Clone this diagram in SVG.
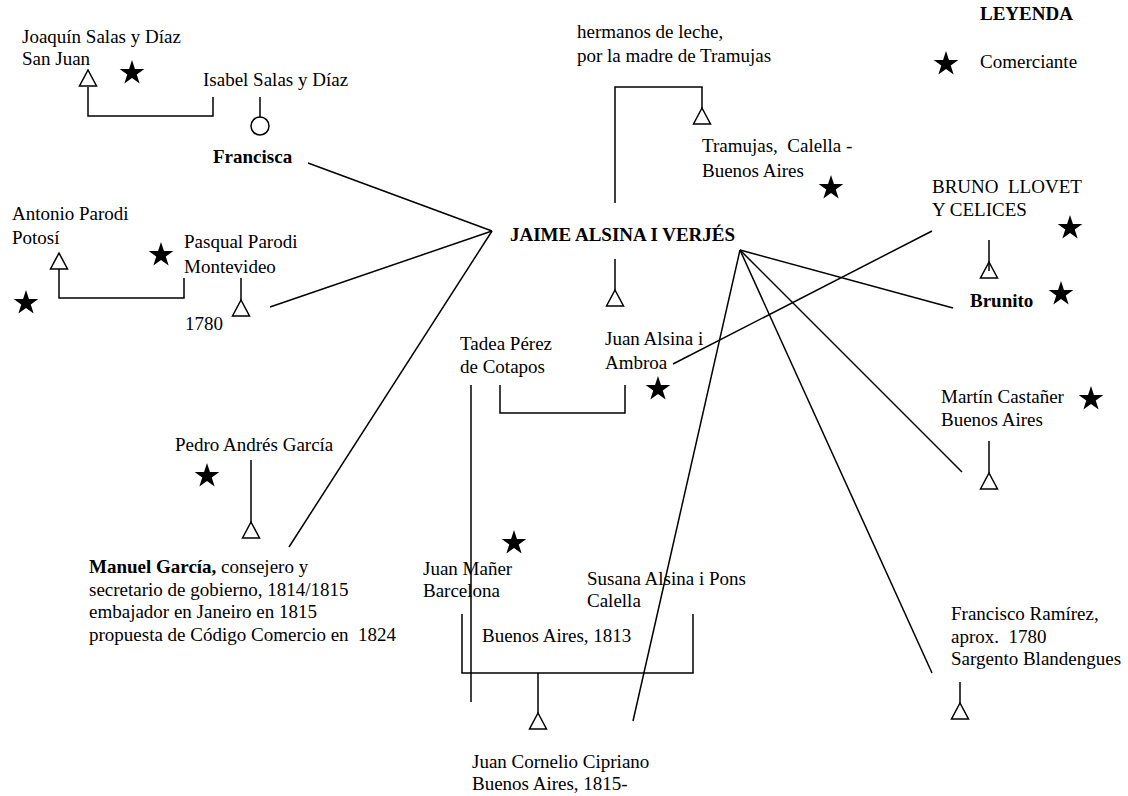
<svg xmlns="http://www.w3.org/2000/svg" xmlns:xlink="http://www.w3.org/1999/xlink" width="1128" height="796" viewBox="0 0 1128 796">
<style>
text{font-family:"Liberation Serif","Times New Roman",serif;font-size:19px;fill:#000;white-space:pre}
.b{font-weight:bold}
.ln{stroke:#000;stroke-width:1.5;fill:none}
.sym{stroke:#000;stroke-width:1.5;fill:#fff}
</style>
<defs>
<path id="star" d="M0,-13 L2.94,-4.05 L12.36,-4.02 L4.76,1.55 L7.64,10.52 L0,5 L-7.64,10.52 L-4.76,1.55 L-12.36,-4.02 L-2.94,-4.05 Z" fill="#000"/>
<path id="tri" d="M0,0 L8.5,16 L-8.5,16 Z" class="sym"/>
</defs>
<rect width="1128" height="796" fill="#fff"/>

<g id="connectors" class="ln">
<path d="M308,163 L492,231"/>
<path d="M270,307 L492,231"/>
<path d="M289,547 L492,231"/>
<path d="M740,250 L953,308"/>
<path d="M740,250 L962,472"/>
<path d="M740,250 L932,673"/>
<path d="M740,250 L633,721"/>
<path d="M932,231 L673,364"/>
<path d="M88,87 V116 H213 V97"/>
<path d="M59,269 V298 H184 V278"/>
<path d="M615,203 V87 H702 V108"/>
<path d="M500,385 V413 H625 V385"/>
<path d="M471,385 V702"/>
<path d="M462,614 V673 H693 V614"/>
<path d="M538,673 V713"/>
</g>

<g id="joaquin">
<text x="22" y="43">Joaquín Salas y Díaz</text>
<text x="22" y="65">San Juan</text>
<use xlink:href="#tri" x="88" y="70"/>
<use xlink:href="#star" x="132" y="73"/>
</g>

<g id="isabel">
<text x="203" y="86">Isabel Salas y Díaz</text>
<path class="ln" d="M260,97 V117"/>
<circle class="sym" cx="260" cy="126" r="9"/>
</g>

<g id="francisca">
<text class="b" x="213" y="163">Francisca</text>
</g>

<g id="antonio">
<text x="12" y="220">Antonio Parodi</text>
<text x="12" y="244">Potosí</text>
<use xlink:href="#tri" x="59" y="253"/>
<use xlink:href="#star" x="26" y="303"/>
</g>

<g id="pasqual">
<text x="184" y="248">Pasqual Parodi</text>
<text x="184" y="273">Montevideo</text>
<use xlink:href="#star" x="161" y="255"/>
<path class="ln" d="M241,278 V300"/>
<use xlink:href="#tri" x="241" y="300"/>
<text x="185" y="330">1780</text>
</g>

<g id="jaime">
<text class="b" x="510" y="241">JAIME ALSINA I VERJÉS</text>
<path class="ln" d="M615,259 V290"/>
<use xlink:href="#tri" x="615" y="290"/>
</g>

<g id="hermanos">
<text x="577" y="38">hermanos de leche,</text>
<text x="577" y="62">por la madre de Tramujas</text>
</g>

<g id="tramujas">
<use xlink:href="#tri" x="702" y="108"/>
<text x="702" y="152">Tramujas,  Calella -</text>
<text x="702" y="177">Buenos Aires</text>
<use xlink:href="#star" x="831" y="188"/>
</g>

<g id="leyenda">
<text class="b" x="980" y="20">LEYENDA</text>
<use xlink:href="#star" x="946" y="64"/>
<text x="980" y="68">Comerciante</text>
</g>

<g id="bruno">
<text x="932" y="193">BRUNO  LLOVET</text>
<text x="932" y="216">Y CELICES</text>
<use xlink:href="#star" x="1070" y="228"/>
</g>

<g id="brunito">
<use xlink:href="#tri" x="989" y="262"/>
<path class="ln" d="M989,240 V271"/>
<text class="b" x="970" y="307">Brunito</text>
<use xlink:href="#star" x="1061" y="294"/>
</g>

<g id="tadea">
<text x="460" y="350">Tadea Pérez</text>
<text x="460" y="373">de Cotapos</text>
</g>

<g id="juan-alsina">
<text x="605" y="345">Juan Alsina i</text>
<text x="605" y="369">Ambroa</text>
<use xlink:href="#star" x="658" y="389"/>
</g>

<g id="martin">
<text x="941" y="403">Martín Castañer</text>
<text x="941" y="426">Buenos Aires</text>
<use xlink:href="#star" x="1091" y="399"/>
<path class="ln" d="M989,441 V473"/>
<use xlink:href="#tri" x="989" y="473"/>
</g>

<g id="pedro">
<text x="175" y="451">Pedro Andrés García</text>
<use xlink:href="#star" x="207" y="476"/>
<path class="ln" d="M251,460 V522"/>
<use xlink:href="#tri" x="251" y="522"/>
</g>

<g id="manuel">
<text x="89" y="573"><tspan class="b">Manuel García,</tspan> consejero y</text>
<text x="89" y="596">secretario de gobierno, 1814/1815</text>
<text x="89" y="618">embajador en Janeiro en 1815</text>
<text x="89" y="641">propuesta de Código Comercio en  1824</text>
</g>

<g id="juan-maner">
<use xlink:href="#star" x="514" y="543"/>
<text x="423" y="575">Juan Mañer</text>
<text x="423" y="597">Barcelona</text>
</g>

<g id="susana">
<text x="587" y="585">Susana Alsina i Pons</text>
<text x="587" y="607">Calella</text>
<text x="482" y="642">Buenos Aires, 1813</text>
</g>

<g id="juan-cornelio">
<use xlink:href="#tri" x="538" y="713"/>
<text x="472" y="768">Juan Cornelio Cipriano</text>
<text x="472" y="790">Buenos Aires, 1815-</text>
</g>

<g id="francisco">
<text x="951" y="620">Francisco Ramírez,</text>
<text x="951" y="643">aprox.  1780</text>
<text x="951" y="665">Sargento Blandengues</text>
<path class="ln" d="M960,682 V703"/>
<use xlink:href="#tri" x="960" y="703"/>
</g>
</svg>
